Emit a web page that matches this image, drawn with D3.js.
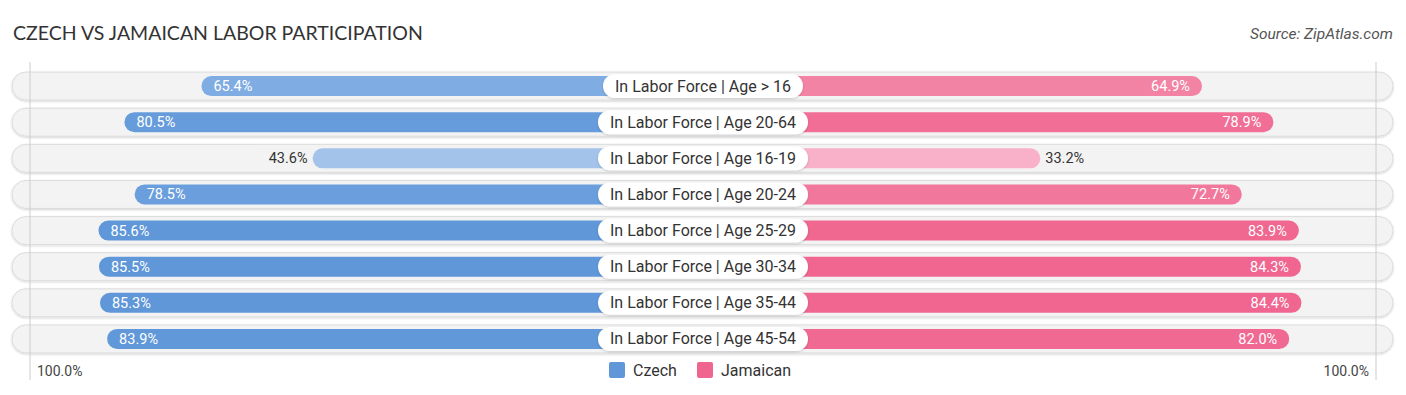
<!DOCTYPE html>
<html>
<head>
<meta charset="utf-8">
<script src="https://cdn.jsdelivr.net/npm/d3@7"></script>
<style>
  body { margin: 0; background: #fff; }
  svg text { font-family: Roboto, "Open Sans", sans-serif; }
</style>
</head>
<body>
<div id="chart"></div>
<script>
var categories = [
    "In Labor Force | Age > 16",
    "In Labor Force | Age 20-64",
    "In Labor Force | Age 16-19",
    "In Labor Force | Age 20-24",
    "In Labor Force | Age 25-29",
    "In Labor Force | Age 30-34",
    "In Labor Force | Age 35-44",
    "In Labor Force | Age 45-54"
];
var czech = [65.4, 80.5, 43.6, 78.5, 85.6, 85.5, 85.3, 83.9];
var jamaican = [64.9, 78.9, 33.2, 72.7, 83.9, 84.3, 84.4, 82.0];
var seriesNames = ["Czech", "Jamaican"];

var width = 1406, height = 395,
    cx = 703,
    inner = 168, outer = 678;

var svg = d3.select("#chart").append("svg")
    .attr("width", width)
    .attr("height", height);

// half-width scale, from the edge of the center label outwards
var x = d3.scaleLinear().domain([0, 100]).range([inner, outer]);

var y = d3.scaleBand()
    .domain(categories)
    .range([68, 357])
    .paddingInner(0.2)
    .paddingOuter(0.1);

var blueScale = d3.scaleLinear().domain([30, 85]).range(["#b9d2f1", "#5f97d9"]).clamp(true);
var pinkScale = d3.scaleLinear().domain([30, 85]).range(["#f8b6cb", "#f0658f"]).clamp(true);

// title + source
svg.append("text")
    .attr("x", 13).attr("y", 40)
    .attr("font-size", 19.5)
    .attr("fill", "#333")
    .style("font-family", "Lato, 'Open Sans', sans-serif")
    .text("CZECH VS JAMAICAN LABOR PARTICIPATION");

svg.append("text")
    .attr("x", 1393).attr("y", 39)
    .attr("text-anchor", "end")
    .attr("font-size", 15.5)
    .attr("font-style", "italic")
    .attr("fill", "#555")
    .text("Source: ZipAtlas.com");

var defs = svg.append("defs");
var f = defs.append("filter").attr("id", "shadow").attr("x", "-10%").attr("y", "-30%").attr("width", "120%").attr("height", "160%");
f.append("feDropShadow").attr("dx", 0).attr("dy", 1).attr("stdDeviation", 1).attr("flood-color", "#000").attr("flood-opacity", 0.18);

var rowH = 28, barH = 20;

var rows = svg.append("g").selectAll("g")
    .data(categories)
    .join("g")
    .attr("transform", d => "translate(0," + (y(d) + y.bandwidth() / 2) + ")");

// row backgrounds
rows.append("rect")
    .attr("x", 12).attr("y", -rowH / 2)
    .attr("width", 1381).attr("height", rowH)
    .attr("rx", rowH / 2)
    .attr("fill", "#f3f3f3")
    .attr("stroke", "#dcdcdc")
    .attr("stroke-width", 1)
    .attr("filter", "url(#shadow)");

// 100% guide lines
[cx - 673, cx + 673].forEach(function(gx) {
    svg.append("line")
        .attr("x1", gx).attr("x2", gx)
        .attr("y1", 62).attr("y2", 380)
        .attr("stroke", "#ccc").attr("stroke-width", 1);
});

// Czech bars (left)
rows.append("rect")
    .attr("x", (d, i) => cx - x(czech[i]))
    .attr("y", -barH / 2)
    .attr("width", (d, i) => x(czech[i]))
    .attr("height", barH)
    .attr("rx", barH / 2)
    .attr("fill", (d, i) => blueScale(czech[i]));

// Jamaican bars (right)
rows.append("rect")
    .attr("x", cx)
    .attr("y", -barH / 2)
    .attr("width", (d, i) => x(jamaican[i]))
    .attr("height", barH)
    .attr("rx", barH / 2)
    .attr("fill", (d, i) => pinkScale(jamaican[i]));

// value labels
rows.append("text")
    .attr("x", (d, i) => czech[i] < 50 ? cx - x(czech[i]) - 5 : cx - x(czech[i]) + 12)
    .attr("y", 5)
    .attr("text-anchor", (d, i) => czech[i] < 50 ? "end" : "start")
    .attr("font-size", 14.5)
    .attr("fill", (d, i) => czech[i] < 50 ? "#333" : "#fff")
    .text((d, i) => czech[i].toFixed(1) + "%");

rows.append("text")
    .attr("x", (d, i) => jamaican[i] < 50 ? cx + x(jamaican[i]) + 5 : cx + x(jamaican[i]) - 12)
    .attr("y", 5)
    .attr("text-anchor", (d, i) => jamaican[i] < 50 ? "start" : "end")
    .attr("font-size", 14.5)
    .attr("fill", (d, i) => jamaican[i] < 50 ? "#333" : "#fff")
    .text((d, i) => jamaican[i].toFixed(1) + "%");

// center labels
rows.each(function(d) {
    var g = d3.select(this);
    var t = g.append("text")
        .attr("x", cx).attr("y", 5.5)
        .attr("text-anchor", "middle")
        .attr("font-size", 16)
        .attr("fill", "#333")
        .text(d);
    var w = t.node().getComputedTextLength() + 24;
    g.insert("rect", "text:last-child")
        .attr("x", cx - w / 2).attr("y", -12)
        .attr("width", w).attr("height", 24)
        .attr("rx", 12)
        .attr("fill", "#fff")
        .attr("filter", "url(#shadow)");
});

// axis end labels
svg.append("text")
    .attr("x", 37).attr("y", 376)
    .attr("font-size", 14).attr("fill", "#444")
    .text("100.0%");
svg.append("text")
    .attr("x", 1369).attr("y", 376)
    .attr("text-anchor", "end")
    .attr("font-size", 14).attr("fill", "#444")
    .text("100.0%");

// legend
var legendColors = ["#5f97d9", "#f0658f"];
var legendX = [609, 697];
var legend = svg.append("g").selectAll("g")
    .data(seriesNames)
    .join("g")
    .attr("transform", (d, i) => "translate(" + legendX[i] + ",362)");
legend.append("rect")
    .attr("width", 16).attr("height", 16)
    .attr("rx", 2)
    .attr("fill", (d, i) => legendColors[i]);
legend.append("text")
    .attr("x", 24).attr("y", 14)
    .attr("font-size", 16).attr("fill", "#333")
    .text(d => d);
</script>
</body>
</html>
